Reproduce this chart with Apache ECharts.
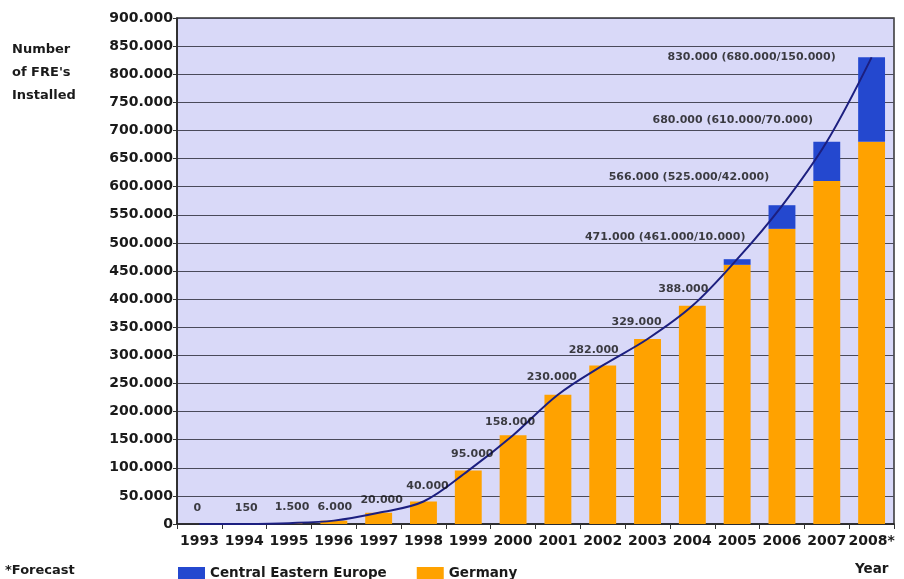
<!DOCTYPE html>
<html>
<head>
<meta charset="utf-8">
<script src="https://cdn.jsdelivr.net/npm/echarts@6/dist/echarts.min.js"></script>
<style>html,body{margin:0;padding:0;background:#fff}#c{width:904px;height:579px}</style>
</head>
<body>
<div id="c"></div>
<script>
const years = ['1993','1994','1995','1996','1997','1998','1999','2000','2001','2002','2003','2004','2005','2006','2007','2008*'];
const germany = [0,150,1500,6000,20000,40000,95000,158000,230000,282000,329000,388000,461000,525000,610000,680000];
const cee = [0,0,0,0,0,0,0,0,0,0,0,0,10000,42000,70000,150000];
const totals = [0,150,1500,6000,20000,40000,95000,158000,230000,282000,329000,388000,471000,566000,680000,830000];
const labelOffsets = [[-2,-16],[2,-16],[3,-16],[1,-13],[3,-13],[4,-15],[4,-16],[-3,-13],[-6,-18],[-9,-15],[-11,-17],[-9,-17],[-72,-22],[-93,-29],[-94,-22],[-120,0]];

function fmt(v){ return String(v).replace(/\B(?=(\d{3})+(?!\d))/g,'.'); }
const font = 'DejaVu Sans';
const chart = echarts.init(document.getElementById('c'));
chart.setOption({
  animation:false,
  textStyle:{fontFamily:font},
  grid:{left:177,right:10,top:18,bottom:55,show:true,backgroundColor:'#d9d9f8',borderColor:'#333',borderWidth:1.5},
  legend:{data:['Central Eastern Europe','Germany'],left:173,top:561,itemWidth:27,itemHeight:12,itemGap:30,
    textStyle:{fontFamily:font,fontWeight:'bold',fontSize:13.5,color:'#1a1a1a'},icon:'rect',selectedMode:false},
  xAxis:{type:'category',data:years,boundaryGap:true,
    axisLine:{lineStyle:{color:'#222',width:1.5}},
    axisTick:{show:true,length:5,lineStyle:{color:'#333'}},
    axisLabel:{fontFamily:font,fontWeight:'bold',fontSize:14,color:'#1a1a1a',margin:10,interval:0}},
  yAxis:{type:'value',min:0,max:900000,interval:50000,
    axisLine:{show:true,lineStyle:{color:'#222',width:1.5}},
    axisTick:{show:true,length:4,lineStyle:{color:'#333'}},
    splitLine:{lineStyle:{color:'#4a4a5a',width:1.2}},
    axisLabel:{fontFamily:font,fontWeight:'bold',fontSize:14,color:'#1a1a1a',margin:4,formatter:v=>fmt(v)}},
  graphic:[
    {type:'text',left:12,top:38,style:{text:"Number\nof FRE's\nInstalled",font:'bold 13px "DejaVu Sans"',fill:'#1a1a1a',lineHeight:23}},
    {type:'text',left:855,top:562,style:{text:'Year',font:'bold 13.5px "DejaVu Sans"',fill:'#1a1a1a'}},
    {type:'text',left:5,top:564,style:{text:'*Forecast',font:'bold 13px "DejaVu Sans"',fill:'#1a1a1a'}}
  ],
  series:[
    {name:'Germany',type:'bar',stack:'a',data:germany,barWidth:'60%',itemStyle:{color:'#ffa200'}},
    {name:'Central Eastern Europe',type:'bar',stack:'a',data:cee,barWidth:'60%',itemStyle:{color:'#2448cf'}},
    {name:'Total',type:'line',data:totals,smooth:0.35,symbol:'none',lineStyle:{color:'#1c1f80',width:2},z:5},
    {name:'Labels',type:'scatter',data:totals.map((v,i)=>({value:v,label:{offset:labelOffsets[i]}})),
      symbolSize:1,itemStyle:{color:'rgba(0,0,0,0)'},z:6,
      label:{show:true,position:'inside',fontFamily:font,fontWeight:'bold',fontSize:11,color:'#111',textBorderWidth:0,textBorderColor:'transparent',
        formatter:p=>{const i=p.dataIndex;return cee[i]>0?fmt(totals[i])+' ('+fmt(germany[i])+'/'+fmt(cee[i])+')':fmt(totals[i]);}}}
  ]
});
</script>
</body>
</html>
